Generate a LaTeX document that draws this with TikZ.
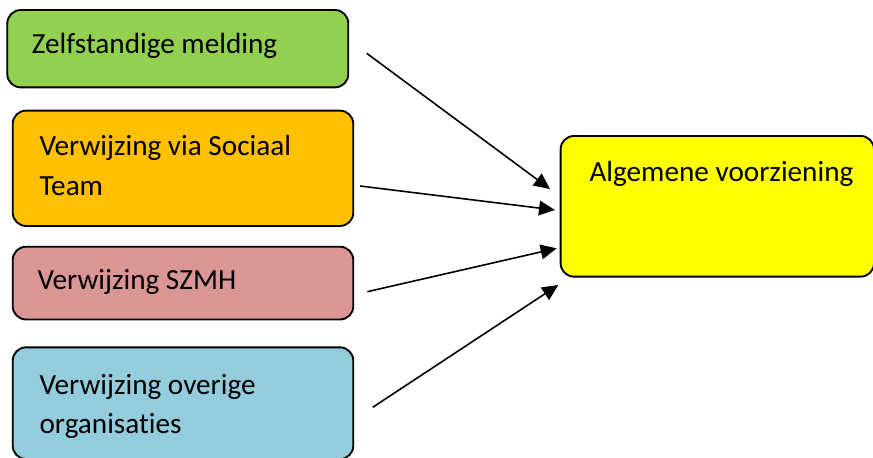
\documentclass[tikz,border=0pt]{standalone}
\usepackage{fontspec}
\setmainfont{Carlito}[Ligatures={NoCommon,NoContextual,NoDiscretionary}]
\usetikzlibrary{arrows.meta}
\definecolor{cgreen}{HTML}{92D050}
\definecolor{corange}{HTML}{FFC000}
\definecolor{cpink}{HTML}{D99694}
\definecolor{cblue}{HTML}{93CDDD}
\definecolor{cyellow}{HTML}{FFFF00}
\tikzset{
  box/.style={draw=black, line width=1.4pt, rounded corners=10pt, inner sep=0pt},
  lbl/.style={anchor=base west, inner sep=0pt, font=\fontsize{21.9pt}{26pt}\selectfont},
  conn/.style={line width=1.2pt, -{Triangle[length=12pt,width=11pt]}}
}
\begin{document}
\begin{tikzpicture}[x=0.75pt,y=-0.75pt]
\useasboundingbox (0,0) rectangle (873,457);
\clip (0,0) rectangle (873,457);
\node[box, fill=cgreen, minimum width=255.75pt, minimum height=58pt] (b1) at (177.8,48.7) {};
\node[box, fill=corange, minimum width=255.45pt, minimum height=86.5pt] (b2) at (183,168.3) {};
\node[box, fill=cpink, minimum width=255.45pt, minimum height=54.6pt] (b3) at (183,283.1) {};
\node[box, fill=cblue, minimum width=255.45pt, minimum height=83.8pt] (b4) at (183,403.2) {};
\node[box, fill=cyellow, minimum width=235pt, minimum height=105.5pt] (b5) at (717.3,206.3) {};
\node[lbl] (t1) at (31.7,53.3) {Zelfstandige melding};
\node[lbl] (t2a) at (39.3,155) {Verwijzing via Sociaal};
\node[lbl] (t2b) at (39.3,195) {Team};
\node[lbl] (t3) at (37.3,289) {Verwijzing SZMH};
\node[lbl] (t4a) at (39.3,394) {Verwijzing overige};
\node[lbl] (t4b) at (39.3,433) {organisaties};
\node[lbl] (t5) at (589.3,181.7) {Algemene voorziening};
\coordinate (s1) at (366.7,53.3);
\coordinate (e1) at (550,189);
\coordinate (s2) at (360,186);
\coordinate (e2) at (555,210);
\coordinate (s3) at (367.3,291.7);
\coordinate (e3) at (556.7,248.3);
\coordinate (s4) at (372.7,407.3);
\coordinate (e4) at (558.3,285);
\draw[conn] (s1) -- (e1);
\draw[conn] (s2) -- (e2);
\draw[conn] (s3) -- (e3);
\draw[conn] (s4) -- (e4);
\end{tikzpicture}
\end{document}
